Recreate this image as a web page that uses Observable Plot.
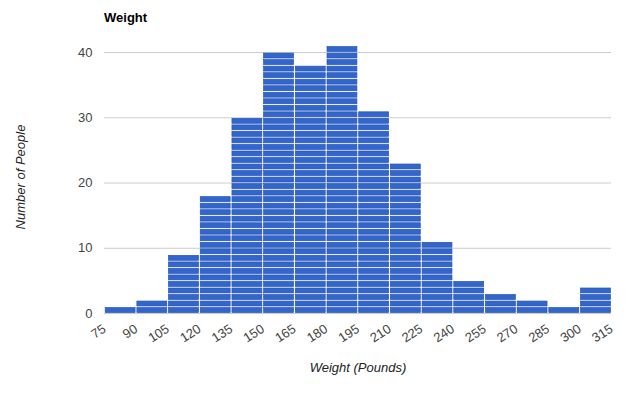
<!DOCTYPE html>
<html>
<head>
<meta charset="utf-8">
<script src="https://cdn.jsdelivr.net/npm/d3@7"></script>
<script src="https://cdn.jsdelivr.net/npm/@observablehq/plot@0.6"></script>
<style>
  body { margin: 0; background: #fff; font-family: "Liberation Sans", Arial, sans-serif; }
  #wrap { position: relative; width: 635px; height: 399px; }
  #title { position: absolute; left: 104px; top: 10px; font-size: 13px; font-weight: bold; color: #000; }
</style>
</head>
<body>
<div id="wrap"><div id="title">Weight</div></div>
<script>
const binStarts = [75, 90, 105, 120, 135, 150, 165, 180, 195, 210, 225, 240, 255, 270, 285, 300];
const binWidth = 15;
const counts = [1, 2, 9, 18, 30, 40, 38, 41, 31, 23, 11, 5, 3, 2, 1, 4];
const xTicks = [75, 90, 105, 120, 135, 150, 165, 180, 195, 210, 225, 240, 255, 270, 285, 300, 315];
const yTicks = [0, 10, 20, 30, 40];

const blocks = [];
binStarts.forEach((s, i) => {
  for (let k = 0; k < counts[i]; k++) blocks.push({x1: s, x2: s + binWidth, y1: k, y2: k + 1});
});

const chart = Plot.plot({
  width: 635,
  height: 399,
  marginLeft: 104,
  marginRight: 24,
  marginTop: 52,
  marginBottom: 86,
  style: { fontFamily: "Liberation Sans, Arial, sans-serif", fontSize: "13px", color: "#444" },
  x: { domain: [75, 315] },
  y: { domain: [0, 40] },
  marks: [
    Plot.ruleY(yTicks, { stroke: "#ccc", strokeWidth: 1 }),
    Plot.rect(blocks, { x1: "x1", x2: "x2", y1: "y1", y2: "y2", fill: "#3366cc", stroke: "#2454b4", strokeWidth: 0.7, insetLeft: 1.2, insetRight: 0.6, insetTop: 1.1, insetBottom: 0.5 }),
    Plot.axisY(yTicks, { tickSize: 0, tickPadding: 12, label: null, fill: "#444", fontSize: 13 }),
    Plot.axisX(xTicks, { tickSize: 0, tickPadding: 14, tickRotate: -33, label: null, fill: "#444", fontSize: 13 }),
    Plot.text(["Number of People"], { frameAnchor: "left", textAnchor: "middle", rotate: -90, dx: -84, dy: -6, fontStyle: "italic", fill: "#222", fontSize: 13 }),
    Plot.text(["Weight (Pounds)"], { frameAnchor: "bottom", dy: 58, fontStyle: "italic", fill: "#222", fontSize: 13 })
  ]
});
document.getElementById("wrap").prepend(chart);
</script>
</body>
</html>
